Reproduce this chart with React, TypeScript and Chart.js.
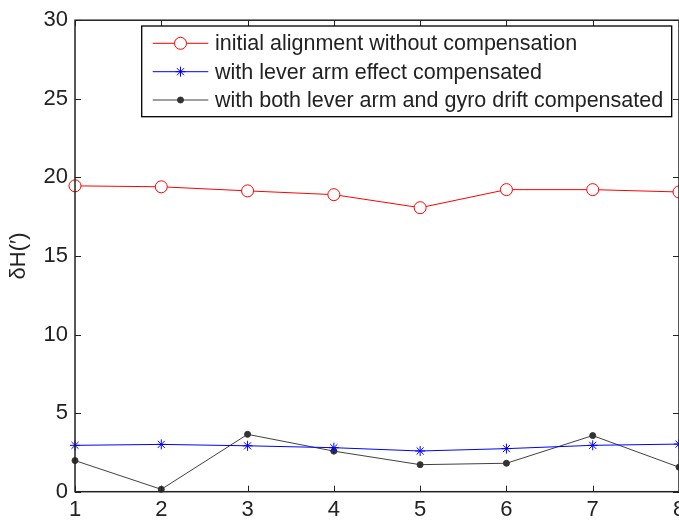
import React, { useEffect, useRef } from "react";
import { Chart, registerables } from "chart.js";

Chart.register(...registerables);

// ---- data ----
const xValues = [1, 2, 3, 4, 5, 6, 7, 8];
const noCompensation = [19.46, 19.4, 19.14, 18.9, 18.07, 19.22, 19.22, 19.07];
const leverArmCompensated = [2.95, 3.01, 2.92, 2.8, 2.59, 2.74, 2.95, 3.03];
const bothCompensated = [1.98, 0.15, 3.65, 2.58, 1.72, 1.81, 3.57, 1.56];
const seriesLabels = [
  "initial alignment without compensation",
  "with lever arm effect compensated",
  "with both lever arm and gyro drift compensated",
];
const xTicks = [1, 2, 3, 4, 5, 6, 7, 8];
const yTicks = [0, 5, 10, 15, 20, 25, 30];
const yTitle = "δH(′)";

const FONT = "'Liberation Sans', Arial, Helvetica, sans-serif";
const TEXT = "#222222";
const CANVAS_W = 720;
const CANVAS_H = 540;

function drawMarker(ctx: CanvasRenderingContext2D, style: string, x: number, y: number, r: number, color: string, fill: string) {
  ctx.save();
  ctx.strokeStyle = color;
  ctx.fillStyle = fill;
  ctx.lineWidth = 1;
  ctx.beginPath();
  if (style === "circle") {
    ctx.arc(x, y, r, 0, Math.PI * 2);
    ctx.fill();
    ctx.stroke();
  } else if (style === "star") {
    const d = r * Math.cos(Math.PI / 4);
    ctx.moveTo(x - r, y); ctx.lineTo(x + r, y);
    ctx.moveTo(x, y - r); ctx.lineTo(x, y + r);
    ctx.moveTo(x - d, y - d); ctx.lineTo(x + d, y + d);
    ctx.moveTo(x - d, y + d); ctx.lineTo(x + d, y - d);
    ctx.stroke();
  }
  ctx.restore();
}

const frameAndLegend = {
  id: "frameAndLegend",
  afterDatasetsDraw(chart: any) {
    const { ctx, chartArea } = chart;
    const { left, right, top, bottom } = chartArea;
    const xs = chart.scales.x;
    const ys = chart.scales.y;
    ctx.save();
    ctx.strokeStyle = TEXT;
    ctx.lineWidth = 1;
    const tl = 6;
    ctx.beginPath();
    xTicks.forEach((v) => {
      const px = Math.round(xs.getPixelForValue(v)) + 0.5;
      ctx.moveTo(px, bottom); ctx.lineTo(px, bottom - tl);
      ctx.moveTo(px, top); ctx.lineTo(px, top + tl);
    });
    yTicks.forEach((v) => {
      const py = Math.round(ys.getPixelForValue(v)) + 0.5;
      ctx.moveTo(left, py); ctx.lineTo(left + tl, py);
      ctx.moveTo(right, py); ctx.lineTo(right - tl, py);
    });
    ctx.stroke();
    ctx.lineWidth = 1.5;
    ctx.strokeRect(left, top, right - left, bottom - top);
    ctx.restore();
  },
  afterDraw(chart: any) {
    const { ctx } = chart;
    const box = { x: 141.7, y: 26, w: 530, h: 90.7 };
    const rows = [43.3, 71.7, 100];
    ctx.save();
    ctx.fillStyle = "#ffffff";
    ctx.fillRect(box.x, box.y, box.w, box.h);
    ctx.strokeStyle = "#000000";
    ctx.lineWidth = 1.3;
    ctx.strokeRect(box.x, box.y, box.w, box.h);
    chart.data.datasets.forEach((ds: any, i: number) => {
      const y = rows[i];
      ctx.strokeStyle = ds.borderColor;
      ctx.lineWidth = 1;
      ctx.beginPath();
      ctx.moveTo(152.7, y);
      ctx.lineTo(208.3, y);
      ctx.stroke();
      drawMarker(ctx, ds.pointStyle, 180.5, y, ds.pointRadius, ds.pointBorderColor, ds.pointBackgroundColor);
      ctx.fillStyle = TEXT;
      ctx.font = `21.5px ${FONT}`;
      ctx.textBaseline = "middle";
      ctx.textAlign = "left";
      ctx.fillText(ds.label, 215, y + 1);
    });
    ctx.restore();
  },
};

export default function App() {
  const ref = useRef<HTMLCanvasElement | null>(null);
  useEffect(() => {
    if (!ref.current) return;
    const chart = new Chart(ref.current, {
      type: "line",
      data: {
        datasets: [
          {
            label: seriesLabels[0],
            data: xValues.map((x, i) => ({ x, y: noCompensation[i] })),
            borderColor: "#ff0000",
            borderWidth: 1,
            pointStyle: "circle",
            pointRadius: 6,
            pointBorderColor: "#ff0000",
            pointBackgroundColor: "#ffffff",
            pointBorderWidth: 1,
            clip: false,
          },
          {
            label: seriesLabels[1],
            data: xValues.map((x, i) => ({ x, y: leverArmCompensated[i] })),
            borderColor: "#0000ff",
            borderWidth: 1,
            pointStyle: "star",
            pointRadius: 5,
            pointBorderColor: "#0000ff",
            pointBackgroundColor: "#0000ff",
            pointBorderWidth: 1,
            clip: false,
          },
          {
            label: seriesLabels[2],
            data: xValues.map((x, i) => ({ x, y: bothCompensated[i] })),
            borderColor: "#404040",
            borderWidth: 1,
            pointStyle: "circle",
            pointRadius: 3,
            pointBorderColor: "#333333",
            pointBackgroundColor: "#333333",
            pointBorderWidth: 1,
            clip: false,
          },
        ] as any,
      },
      options: {
        animation: false,
        responsive: false,
        devicePixelRatio: 1,
        layout: { padding: { top: 16, right: CANVAS_W - 679, left: 0, bottom: 0 } },
        plugins: { legend: { display: false }, tooltip: { enabled: false } },
        elements: { line: { tension: 0 } },
        scales: {
          x: {
            type: "linear",
            min: 1,
            max: 8,
            afterBuildTicks: (s: any) => { s.ticks = xTicks.map((v) => ({ value: v })); },
            afterFit: (s: any) => { s.height = CANVAS_H - 491.7; },
            grid: { display: false, drawTicks: false },
            border: { display: false },
            ticks: { font: { size: 22, family: FONT }, color: TEXT, padding: 5, maxRotation: 0 },
          },
          y: {
            type: "linear",
            min: 0,
            max: 30,
            afterBuildTicks: (s: any) => { s.ticks = yTicks.map((v) => ({ value: v })); },
            afterFit: (s: any) => { s.width = 75; },
            grid: { display: false, drawTicks: false },
            border: { display: false },
            ticks: { font: { size: 22, family: FONT }, color: TEXT, padding: 7 },
            title: {
              display: true,
              text: yTitle,
              font: { size: 22, family: FONT },
              color: TEXT,
              padding: { top: 6, bottom: 0 },
            },
          },
        },
      } as any,
      plugins: [frameAndLegend],
    });
    return () => chart.destroy();
  }, []);
  return (
    <div style={{ position: "fixed", left: 0, top: 0, width: 679, height: 520, overflow: "hidden", background: "#fff" }}>
      <canvas ref={ref} width={CANVAS_W} height={CANVAS_H} style={{ width: CANVAS_W, height: CANVAS_H, display: "block" }} />
    </div>
  );
}
